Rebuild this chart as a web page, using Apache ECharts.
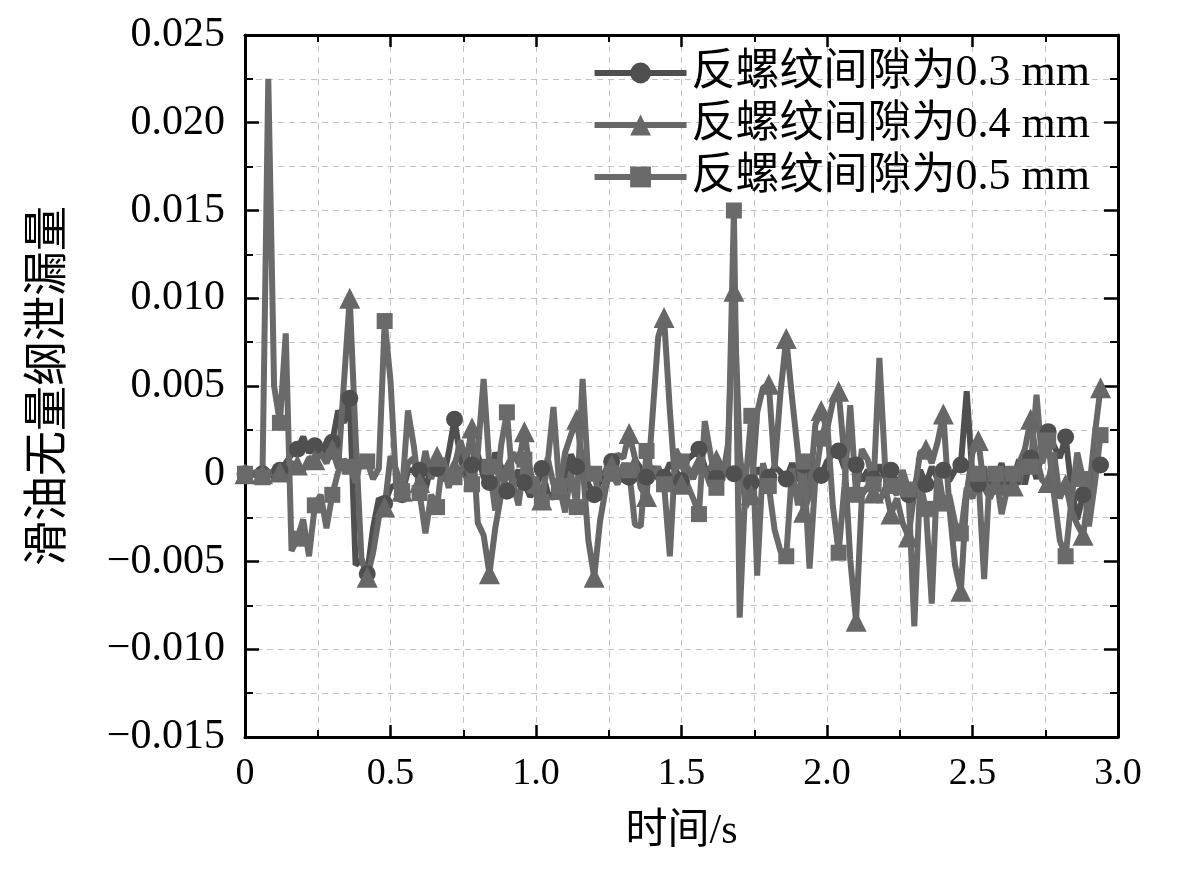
<!DOCTYPE html>
<html>
<head>
<meta charset="utf-8">
<script src="https://cdn.jsdelivr.net/npm/echarts@6/dist/echarts.min.js"></script>
<style>
  html, body { margin:0; padding:0; background:#fff; }
  #chart { width:1181px; height:874px; }
</style>
</head>
<body>
<div id="chart"></div>
<script>
// ====== 数据（采样间隔 0.02 s，从 0 到 2.94 s）======
const SERIES_NAMES = ['反螺纹间隙为0.3 mm', '反螺纹间隙为0.4 mm', '反螺纹间隙为0.5 mm'];
const X_TICKS = [0, 0.5, 1.0, 1.5, 2.0, 2.5, 3.0];
const Y_TICKS = [-0.015, -0.010, -0.005, 0, 0.005, 0.010, 0.015, 0.020, 0.025];
const SAMPLE_STEP = 0.02;
const MARK_EVERY = 3;

// 0.3 mm（圆点）
const gap03 = [
  0, 0, -0.0001, 0, 0.0001, -0.0002, 0.0002, 0.0006, 0.0011, 0.0014,
  0.0021, 0.0012, 0.0016, 0.0009, 0.0018, 0.0018, 0.0036, 0.0029, 0.0043, -0.0052,
  -0.0049, -0.0057, -0.0031, -0.0014, -0.0017, -0.0008, -0.0006, -0.0012, 0.0002, 0.0002,
  0.0002, -0.0009, 0.0004, 0.0003, -0.0004, 0.0012, 0.0031, 0.0009, -0.0002, 0.0005,
  0.0011, -0.0002, -0.0005, 0.0012, 0.0004, -0.0010, -0.0004, 0.0002, -0.0005, -0.0013,
  -0.0008, 0.0003, -0.0011, -0.0014, -0.0009, -0.0002, 0.0011, 0.0004, 0.0009, -0.0006,
  -0.0012, -0.0004, 0.0002, 0.0007, 0.0002, -0.0004, -0.0002, 0.0008, 0.0003, -0.0002,
  0.0004, -0.0003, -0.0002, 0.0006, 0.0002, -0.0004, 0.0008, 0.0011, 0.0014, 0.0004,
  -0.0003, -0.0002, 0.0003, 0.0001, 0, 0.0004, -0.0002, -0.0005, 0.0003, -0.0001,
  -0.0002, 0.0004, 0.0001, -0.0003, 0.0006, -0.0004, 0.0005, -0.0006, 0.0002, -0.0001,
  0.0007, 0.0011, 0.0013, 0.0003, 0.0008, 0.0005, -0.0004, 0.0002, -0.0003, 0.0005,
  -0.0002, 0.0002, -0.0005, -0.0001, -0.0012, -0.0007, 0.0002, -0.0006, 0.0004, -0.0003,
  0.0002, -0.0004, 0.0002, 0.0005, 0.0047, -0.0002, -0.0006, 0.0004, -0.0012, -0.0003,
  0.0006, -0.0009, -0.0003, 0.0008, -0.0006, 0.0009, -0.0003, 0.0014, 0.0024, 0.0016,
  0.0009, 0.0021, -0.0008, -0.0026, -0.0012, -0.0004, 0.0002, 0.0005
];

// 0.4 mm（三角）
const gap04 = [
  0, 0, 0.0001, 0, -0.0001, 0.0002, 0.0001, 0.0004, 0.0006, 0.0005,
  0.0002, 0.0009, 0.0008, 0.0012, 0.0006, 0.0014, 0.0003, 0.0052, 0.0100, 0.0021,
  -0.0048, -0.0059, -0.0045, -0.0025, -0.0019, 0.0010, 0.0002, -0.0010, 0.0006, 0.0009,
  -0.0005, 0.0013, -0.0003, 0.0010, 0.0006, -0.0008, 0.0004, 0.0019, 0.0007, 0.0026,
  -0.0028, -0.0035, -0.0057, -0.0031, -0.0012, 0.0002, 0.0012, 0.0006, 0.0024, 0.0002,
  -0.0012, -0.0015, 0.0009, -0.0006, -0.0009, 0.0012, 0.0022, 0.0031, 0.0006, -0.0038,
  -0.0059, -0.0027, -0.0008, 0.0005, 0.0011, 0.0009, 0.0023, 0.0009, -0.0008, -0.0013,
  0.0032, 0.0078, 0.0089, 0.0036, -0.0009, -0.0006, 0.0004, -0.0003, 0.0006, 0.0002,
  -0.0007, 0.0008, -0.0004, 0.0017, 0.0104, 0.0012, -0.0019, -0.0012, 0.0035, 0.0049,
  0.0051, 0.0003, 0.0046, 0.0077, 0.0043, 0.0012, -0.0022, -0.0012, 0.0028, 0.0036,
  0.0025, 0.0041, 0.0047, 0.0009, -0.0049, -0.0084, -0.0012, -0.0007, -0.0011, -0.0016,
  -0.0008, -0.0023, -0.0014, -0.0028, -0.0036, -0.0011, 0.0012, 0.0014, 0.0006, 0.0018,
  0.0034, -0.0018, -0.0052, -0.0067, -0.0011, 0.0012, 0.0019, -0.0008, -0.0014, -0.0006,
  -0.0012, 0.0003, -0.0007, 0.0006, 0.0014, 0.0031, 0.0009, -0.0004, -0.0005, 0.0012,
  -0.0014, -0.0006, -0.0021, -0.0029, -0.0035, -0.0011, 0.0022, 0.0049
];

// 0.5 mm（方块）
const gap05 = [
  0, 0, 0, -0.0002, 0.0225, 0.0050, 0.0029, 0.0080, -0.0044, -0.0037,
  -0.0026, -0.0047, -0.0018, -0.0012, -0.0031, -0.0012, 0.0001, 0.0008, 0.0004, -0.0005,
  0.0009, 0.0007, -0.0003, 0.0003, 0.0087, 0.0053, -0.0008, -0.0010, 0.0036, 0.0016,
  -0.0011, -0.0034, -0.0012, -0.0019, 0.0009, -0.0004, -0.0002, 0.0002, 0.0006, -0.0006,
  0.0012, 0.0054, 0.0004, -0.0021, 0.0016, 0.0035, -0.0005, -0.0018, 0.0008, -0.0011,
  -0.0002, -0.0016, 0.0006, 0.0038, -0.0007, -0.0022, 0.0001, -0.0019, 0.0054, -0.0003,
  0, -0.0015, -0.0004, 0, -0.0006, 0.0005, 0.0002, -0.0029, -0.0030, 0.0013,
  -0.0002, 0.0004, -0.0006, -0.0047, 0.0014, 0.0007, -0.0006, -0.0014, -0.0023, 0.0030,
  0.0011, -0.0008, 0.0002, 0.0005, 0.0150, -0.0082, -0.0005, 0.0033, -0.0058, 0.0006,
  -0.0007, -0.0032, -0.0044, -0.0047, 0.0003, -0.0018, 0.0007, -0.0054, -0.0003, 0.0020,
  0.0031, -0.0018, -0.0045, -0.0007, 0.0039, -0.0012, 0.0014, 0.0008, -0.0006, 0.0066,
  0.0003, -0.0007, -0.0012, 0.0002, -0.0009, -0.0087, -0.0005, -0.0020, -0.0074, 0.0004,
  -0.0017, -0.0012, -0.0028, -0.0034, -0.0008, -0.0014, 0, -0.0060, 0.0002, 0,
  -0.0023, -0.0008, 0, -0.0006, 0.0012, 0.0004, 0.0045, 0.0006, 0.0019, -0.0012,
  -0.0038, -0.0047, -0.0015, 0.0012, -0.0003, -0.0030, -0.0006, 0.0022
];

// ====== 样式 ======
const FONT = '"Liberation Serif", "Noto Sans CJK SC", serif';
const COLORS = ['#4f4f4f', '#676767', '#6a6a6a'];
const SYMBOLS = ['circle', 'triangle', 'rect'];
const SYMBOL_SIZES = [17, 21, 16];

function toPoints(values){
  return values.map((v, i) => {
    const item = { value: [+(i * SAMPLE_STEP).toFixed(2), v] };
    if (i % MARK_EVERY !== 0) item.symbol = 'none';
    return item;
  });
}

function fmtX(v){ return v === 0 ? '0' : v.toFixed(1); }
function fmtY(v){
  if (Math.abs(v) < 1e-9) return '0';
  return (v < 0 ? '\u2212' : '') + Math.abs(v).toFixed(3);
}

const chart = echarts.init(document.getElementById('chart'));

const splitDash = { show:true, lineStyle:{ color:'#c4c4c4', type:[6,5], width:1 } };
const axisLine = { show:true, onZero:false, lineStyle:{ color:'#000', width:3 } };

const xCommon = {
  type:'value', min:X_TICKS[0], max:X_TICKS[X_TICKS.length-1], interval:0.5,
  axisLine,
  axisTick:{ show:true, inside:true, length:12, lineStyle:{ color:'#000', width:2.5 } },
  minorTick:{ show:true, splitNumber:2, length:7, lineStyle:{ color:'#000', width:2 } },
};
const yCommon = {
  type:'value', min:Y_TICKS[0], max:Y_TICKS[Y_TICKS.length-1], interval:0.005,
  axisLine,
  axisTick:{ show:true, inside:true, length:14, lineStyle:{ color:'#000', width:2.5 } },
  minorTick:{ show:true, splitNumber:2, length:8, lineStyle:{ color:'#000', width:2 } },
};

const series = [gap03, gap04, gap05].map((vals, k) => ({
  name: SERIES_NAMES[k],
  type: 'line',
  data: toPoints(vals),
  symbol: SYMBOLS[k],
  symbolSize: SYMBOL_SIZES[k],
  showAllSymbol: true,
  lineStyle: { width: 6, color: COLORS[k] },
  itemStyle: { color: COLORS[k] },
  emphasis: { disabled: true },
  animation: false,
}));

chart.setOption({
  backgroundColor:'#fff',
  animation:false,
  grid:{ left:245, right:63, top:35, bottom:137 },
  legend:{
    orient:'vertical', right:86, top:46,
    itemWidth:92, itemHeight:26, itemGap:8, itemTextGap:6,
    data: SERIES_NAMES,
    lineStyle:{ width:6 },
    textStyle:{ fontFamily:FONT, fontSize:44, color:'#000', lineHeight:42 },
  },
  xAxis:[
    Object.assign({}, xCommon, {
      position:'bottom',
      name:'时间/s', nameLocation:'middle', nameGap:74,
      nameTextStyle:{ fontFamily:FONT, fontSize:42, color:'#000' },
      axisLabel:{ show:true, margin:18, fontFamily:FONT, fontSize:38, color:'#000', formatter:fmtX },
      splitLine: splitDash,
      minorSplitLine: splitDash,
    }),
    Object.assign({}, xCommon, {
      position:'top',
      axisLabel:{ show:false },
      splitLine:{ show:false },
    }),
  ],
  yAxis:[
    Object.assign({}, yCommon, {
      position:'left',
      name:'滑油无量纲泄漏量', nameLocation:'middle', nameGap:172,
      nameTextStyle:{ fontFamily:FONT, fontSize:45, color:'#000' },
      axisLabel:{ show:true, margin:20, fontFamily:FONT, fontSize:42, color:'#000', formatter:fmtY },
      splitLine: splitDash,
      minorSplitLine: splitDash,
    }),
    Object.assign({}, yCommon, {
      position:'right',
      axisLabel:{ show:false },
      splitLine:{ show:false },
    }),
  ],
  series,
});
</script>
</body>
</html>
